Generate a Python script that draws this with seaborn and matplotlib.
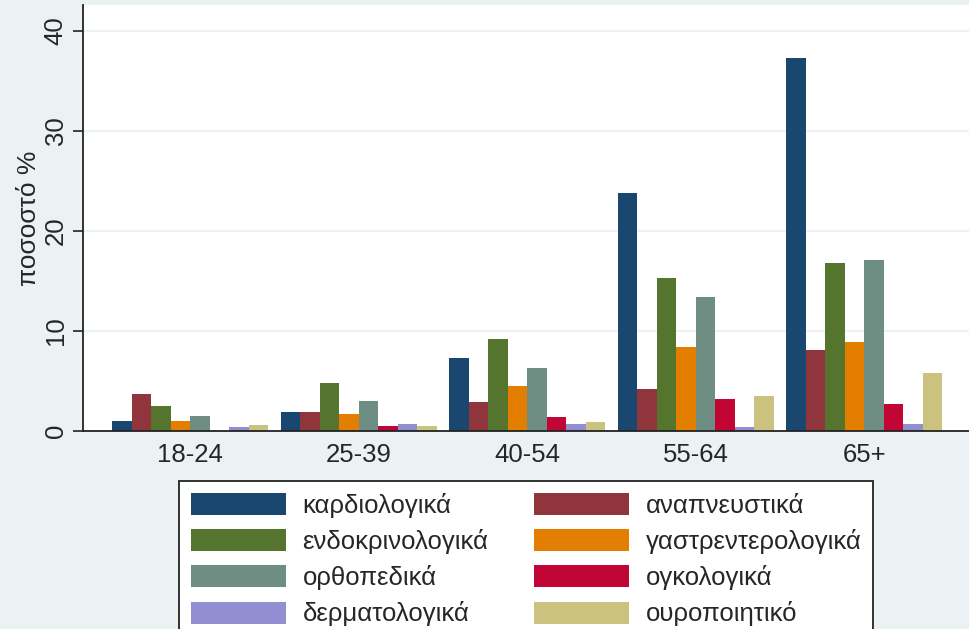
import pandas as pd
import numpy as np
import matplotlib
matplotlib.use("Agg")
import matplotlib.pyplot as plt
import seaborn as sns

# age groups and diagnosis categories
age_groups = ["18-24", "25-39", "40-54", "55-64", "65+"]
categories = ["καρδιολογικά", "αναπνευστικά", "ενδοκρινολογικά", "γαστρεντερολογικά",
              "ορθοπεδικά", "ογκολογικά", "δερματολογικά", "ουροποιητικό"]

# percentage per category, one value per age group
cardio = [1.0, 1.9, 7.3, 23.8, 37.3]
respiratory = [3.7, 1.9, 2.9, 4.2, 8.1]
endocrine = [2.5, 4.8, 9.2, 15.3, 16.8]
gastro = [1.0, 1.7, 4.5, 8.4, 8.9]
ortho = [1.5, 3.0, 6.3, 13.4, 17.1]
oncology = [0.0, 0.5, 1.4, 3.2, 2.7]
dermato = [0.4, 0.7, 0.7, 0.4, 0.7]
urinary = [0.6, 0.5, 0.9, 3.5, 5.8]

series = [cardio, respiratory, endocrine, gastro, ortho, oncology, dermato, urinary]
colors = ["#1A476F", "#90353B", "#55752F", "#E37E00",
          "#6E8E84", "#C10534", "#938DD2", "#CAC27E"]

rows = []
for cat, vals in zip(categories, series):
    for age, v in zip(age_groups, vals):
        rows.append({"age": age, "category": cat, "value": v})
df = pd.DataFrame(rows)

bg = "#EAF2F3"
sns.set_style("white")
plt.rcParams["font.family"] = ["Liberation Sans", "DejaVu Sans"]

fig = plt.figure(figsize=(9.69, 6.29), dpi=100, facecolor=bg)
ax = fig.add_axes([83 / 969, 1 - 431 / 629, 1 - 83 / 969, (431 - 5) / 629])
ax.set_facecolor("white")

sns.barplot(data=df, x="age", y="value", hue="category", order=age_groups,
            hue_order=categories, palette=colors, width=0.925, linewidth=0,
            saturation=1, ax=ax, legend=True)

ax.set_xlim(-0.635, 4.62)
ax.set_ylim(0, 42.6)
ax.set_yticks([0, 10, 20, 30, 40])
ax.yaxis.grid(True, color=bg, linewidth=1.5)
ax.set_axisbelow(True)

for side in ["top", "right"]:
    ax.spines[side].set_visible(False)
for side in ["left", "bottom"]:
    ax.spines[side].set_color("#222222")
    ax.spines[side].set_linewidth(1.3)

ax.tick_params(axis="y", length=7, width=1.2, color="#222222", pad=4,
               labelsize=18.5, labelrotation=90, left=True)
for lab in ax.get_yticklabels():
    lab.set_verticalalignment("center")
ax.tick_params(axis="x", length=0, pad=9, labelsize=18.5)

ax.set_xlabel("")
ax.set_ylabel("ποσοστό %", fontsize=19)
ax.yaxis.set_label_coords(-0.047, 0.5)

# legend filled row by row, as in the original
handles, labels = ax.get_legend_handles_labels()
ax.get_legend().remove()
order = [0, 2, 4, 6, 1, 3, 5, 7]
leg = fig.legend([handles[i] for i in order], [labels[i] for i in order],
                 ncol=2, loc="upper left",
                 bbox_to_anchor=(179 / 969, 1 - 481 / 629), fontsize=18.5,
                 handlelength=3.7, handleheight=0.95, handletextpad=0.66,
                 borderpad=0.45, borderaxespad=0, labelspacing=0.44,
                 columnspacing=1.75, frameon=True, fancybox=False,
                 framealpha=1, facecolor="white", edgecolor="#222222")
leg.get_frame().set_linewidth(1.3)

fig.savefig("out.png", dpi=100, facecolor=bg)
